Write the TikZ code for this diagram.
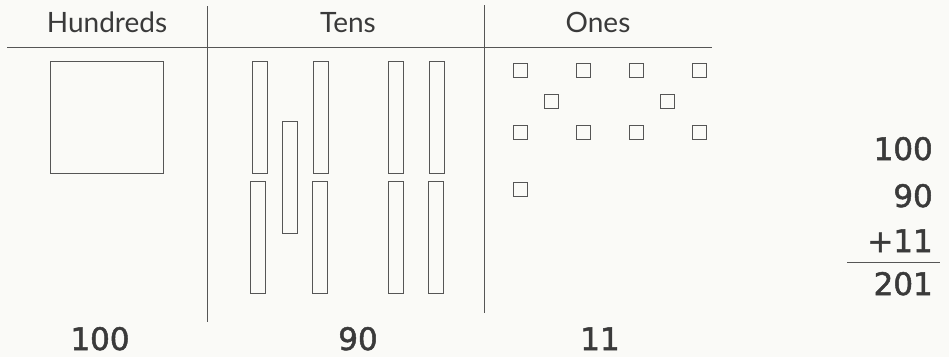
\documentclass[tikz,border=0pt]{standalone}
\usepackage{fontspec}
\setmainfont{Lato}
\newfontfamily\numfont[FakeBold=1.6]{DejaVu Sans}
\definecolor{ink}{HTML}{3A3A3A}
\definecolor{rule}{HTML}{555555}
\definecolor{paper}{HTML}{FAFAF7}
\begin{document}
\begin{tikzpicture}[x=1pt,y=-1pt,
  hdr/.style={font=\fontsize{28}{30}\selectfont, text=ink, anchor=base, inner sep=0pt},
  num/.style={font=\numfont\fontsize{31}{33}\selectfont, text=ink, inner sep=0pt},
  ruleline/.style={draw=rule, line width=0.8pt},
  block/.style={draw=rule, line width=0.8pt, inner sep=0pt, minimum width=#1},
  hundred/.style={block=113pt, minimum height=112pt},
  ten/.style={block=15pt, minimum height=112pt},
  one/.style={block=14pt, minimum height=14pt}]
\fill[paper] (0,0) rectangle (949,357);
\useasboundingbox (0,0) rectangle (949,357);
% headers
\node[hdr] (hH) at (107,32) {Hundreds};
\node[hdr] (hT) at (348,32) {Tens};
\node[hdr] (hO) at (598,32) {Ones};
% rules
\coordinate (hl1) at (7,47);
\coordinate (hl2) at (712,47);
\draw[ruleline] (hl1) -- (hl2);
\coordinate (v1a) at (207,6);
\coordinate (v1b) at (207,322);
\coordinate (v2a) at (484,5);
\coordinate (v2b) at (484,313);
\draw[ruleline] (v1a) -- (v1b);
\draw[ruleline] (v2a) -- (v2b);
% hundreds flat
\node[hundred] (H1) at (106.5,117) {};
% tens rods
\node[ten] (T1) at (259.5,117) {};
\node[ten] (T2) at (321,117) {};
\node[ten] (T3) at (396,117) {};
\node[ten] (T4) at (436.5,117) {};
\node[ten] (T5) at (258,237.5) {};
\node[ten] (T6) at (320,237.5) {};
\node[ten] (T7) at (395.5,237.5) {};
\node[ten] (T8) at (435.5,237.5) {};
\node[ten] (T9) at (289.5,177.5) {};
% ones
\node[one] (O1) at (520.5,70) {};
\node[one] (O2) at (583.5,70) {};
\node[one] (O3) at (636,70) {};
\node[one] (O4) at (699,70) {};
\node[one] (O5) at (551.5,101.5) {};
\node[one] (O6) at (667.5,101.5) {};
\node[one] (O7) at (520.5,132.5) {};
\node[one] (O8) at (583.5,132.5) {};
\node[one] (O9) at (636,132.5) {};
\node[one] (O10) at (699,132.5) {};
\node[one] (O11) at (520.5,189.5) {};
% bottom labels
\node[num, anchor=base] (bH) at (100,350) {100};
\node[num, anchor=base] (bT) at (358,350) {90};
\node[num, anchor=base] (bO) at (600,350) {11};
% sum
\node[num, anchor=base east] (s1) at (933,160) {100};
\node[num, anchor=base east] (s2) at (933,207) {90};
\node[num, anchor=base east] (s3) at (933,252) {+11};
\node[num, anchor=base east] (s4) at (933,295) {201};
\coordinate (sl1) at (847,262);
\coordinate (sl2) at (940,262);
\draw[ruleline] (sl1) -- (sl2);
\end{tikzpicture}
\end{document}
